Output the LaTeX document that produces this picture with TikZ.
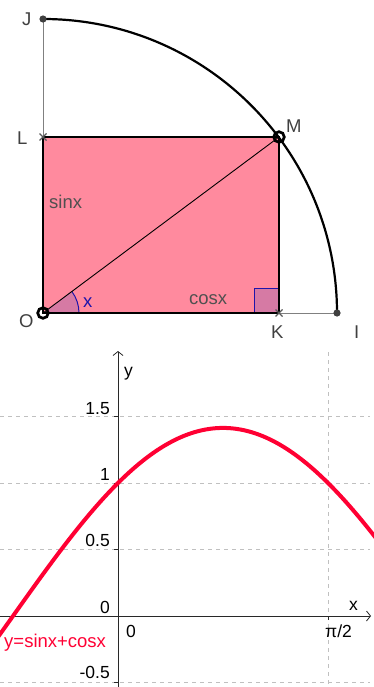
\documentclass[tikz,border=0pt]{standalone}
\usepackage{fontspec}
\setmainfont{Liberation Sans}
\usetikzlibrary{arrows.meta,calc}
\definecolor{rectpink}{RGB}{255,138,158}
\definecolor{angfill}{RGB}{214,122,164}
\definecolor{angblue}{RGB}{30,20,170}
\definecolor{curvered}{RGB}{255,0,51}
\definecolor{gridgray}{RGB}{192,192,192}
\definecolor{lblgray}{RGB}{64,64,64}
\definecolor{txtgray}{RGB}{80,80,80}
\definecolor{axisgray}{RGB}{40,40,40}
\begin{document}
\begin{tikzpicture}[x=1pt,y=-1pt,
  lbl/.style={anchor=base west,inner sep=0pt,text=lblgray,font=\fontsize{18.5}{19}\selectfont},
  num/.style={anchor=base east,inner sep=0pt,text=black,font=\fontsize{17.5}{18}\selectfont},
  numw/.style={anchor=base west,inner sep=0pt,text=black,font=\fontsize{17.5}{18}\selectfont},
  thinline/.style={draw=gray,line width=1pt},
  edge/.style={draw=black,line width=2.7pt},
  griddash/.style={draw=gridgray,line width=0.8pt,dash pattern=on 4pt off 4pt},
  axis/.style={draw=axisgray,line width=0.8pt,-{Straight Barb[length=4pt,width=10pt]}},
  tick/.style={draw=axisgray,line width=0.8pt}]
\useasboundingbox (0,0) rectangle (374,687);
% points
\coordinate (O) at (43,313);
\coordinate (K) at (279,313);
\coordinate (M) at (279,137);
\coordinate (L) at (43,137);
\coordinate (J) at (43,19);
\coordinate (I) at (337,313);
% rectangle fill
\fill[rectpink] (O) rectangle (M);
% angle x
\fill[angfill] (O) -- ++(36,0) arc[start angle=0,end angle=36.7,radius=36pt] -- cycle;
\draw[angblue,line width=1pt] ($(O)+(36,0)$) arc[start angle=0,end angle=36.7,radius=36pt];
% right angle at K
\filldraw[fill=angfill,draw=angblue,line width=1pt] (254,313) rectangle (279,288);
% thin lines
\draw[thinline] (L) -- (J);
\draw[thinline] (K) -- (I);
\draw[black,line width=0.9pt] (O) -- (M);
% rectangle border
\draw[edge,line join=miter] (O) -- (L) -- (M) -- (K) -- cycle;
% quarter circle
\draw[black,line width=2.2pt] (I) arc[start angle=0,end angle=90,radius=294pt];
% point marks
\fill[lblgray] (J) circle (3.6pt);
\fill[lblgray] (I) circle (3.6pt);
\draw[black,line width=2.7pt] (O) circle (5.3pt);
\draw[black,line width=2.7pt] (M) circle (5.3pt);
\draw[gray!70!black,line width=1.2pt] ($(L)+(-3.5,-3.5)$) -- ($(L)+(3.5,3.5)$) ($(L)+(-3.5,3.5)$) -- ($(L)+(3.5,-3.5)$);
\draw[gray!70!black,line width=1.2pt] ($(K)+(-3.5,-3.5)$) -- ($(K)+(3.5,3.5)$) ($(K)+(-3.5,3.5)$) -- ($(K)+(3.5,-3.5)$);
% labels
\node[lbl] (tJ) at (22,26) {J};
\node[lbl] (tL) at (17,145) {L};
\node[lbl] (tM) at (286,133) {M};
\node[lbl] (tO) at (19,327) {O};
\node[lbl] (tK) at (271,338) {K};
\node[lbl] (tI) at (354,338) {I};
\node[lbl,text=txtgray] (tsin) at (49,208) {sinx};
\node[lbl,text=txtgray] (tcos) at (189,304) {cosx};
\node[lbl,text=angblue] (tx) at (83,307) {x};
% graph grid
\draw[griddash] (0,416) -- (370,416);
\draw[griddash] (0,483) -- (370,483);
\draw[griddash] (0,549) -- (370,549);
\draw[griddash] (0,682) -- (370,682);
\draw[griddash] (328,352) -- (328,687);
% axes
\draw[axis] (118,687) -- (118,351);
\draw[axis] (0,616) -- (371,616);
\foreach \yy in {416,483,549,682} \draw[tick] (114,\yy) -- (118,\yy);
\draw[tick] (328,616) -- (328,620);
% curve
\begin{scope}
\clip (0,340) rectangle (374,687);
\draw[curvered,line width=4pt,line join=round,domain=-0.95:1.98,samples=120] plot ({118+133.7*\x},{616-133*(sin(\x r)+cos(\x r))});
\end{scope}
% axis labels
\node[num] (n15) at (110,414) {1.5};
\node[num] (n1) at (110,480) {1};
\node[num] (n05) at (110,546) {0.5};
\node[num] (n0) at (110,613) {0};
\node[num] (nm05) at (110,678) {-0.5};
\node[numw] (x0) at (126,637) {0};
\node[numw] (xpi) at (325,637) {π/2};
\node[numw] (xl) at (349,610) {x};
\node[numw] (yl) at (124,376) {y};
\node[lbl,text=curvered] (fn) at (4,647) {y=sinx+cosx};
\end{tikzpicture}
\end{document}
